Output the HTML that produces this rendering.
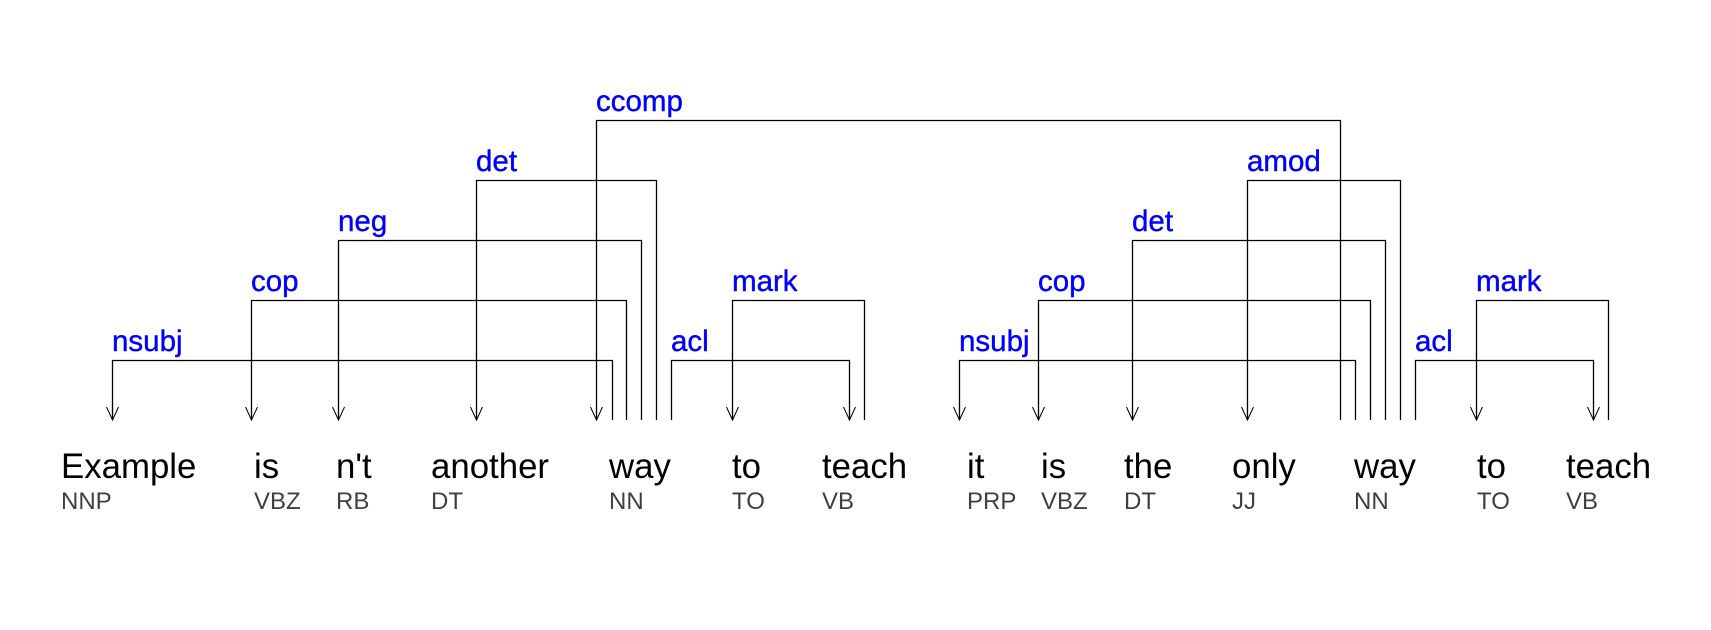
<!DOCTYPE html>
<html><head><meta charset="utf-8"><style>
html,body{margin:0;padding:0;background:#fff;}
svg{display:block;}
.w{font-family:"Liberation Sans",Arial,sans-serif;font-size:34.8px;fill:#000;}
.p{font-family:"Liberation Sans",Arial,sans-serif;font-size:24px;fill:#404040;}
.l{font-family:"Liberation Sans",Arial,sans-serif;font-size:29.5px;fill:#0000ff;stroke:#0000ff;stroke-width:0.4;}
</style></head><body>
<svg width="1711" height="630" viewBox="0 0 1711 630" xmlns="http://www.w3.org/2000/svg">
<rect width="1711" height="630" fill="#fff"/>
<g stroke="#000" stroke-width="1.3" fill="none">
<path d="M612.5 420V360.5H112.5V420"/>
<path d="M626.5 420V300.5H251.5V420"/>
<path d="M641.5 420V240.5H338.5V420"/>
<path d="M656.5 420V180.5H476.5V420"/>
<path d="M671.5 420V360.5H849.5V420"/>
<path d="M864.5 420V300.5H732.5V420"/>
<path d="M1340.5 420V120.5H596.5V420"/>
<path d="M1355.5 420V360.5H959.5V420"/>
<path d="M1370.5 420V300.5H1038.5V420"/>
<path d="M1385.5 420V240.5H1132.5V420"/>
<path d="M1400.5 420V180.5H1247.5V420"/>
<path d="M1415.5 420V360.5H1593.5V420"/>
<path d="M1608.5 420V300.5H1476.5V420"/>
<g stroke-width="1">
<path d="M106.5 407L112.5 420L118.5 407"/>
<path d="M245.5 407L251.5 420L257.5 407"/>
<path d="M332.5 407L338.5 420L344.5 407"/>
<path d="M470.5 407L476.5 420L482.5 407"/>
<path d="M590.5 407L596.5 420L602.5 407"/>
<path d="M726.5 407L732.5 420L738.5 407"/>
<path d="M843.5 407L849.5 420L855.5 407"/>
<path d="M953.5 407L959.5 420L965.5 407"/>
<path d="M1032.5 407L1038.5 420L1044.5 407"/>
<path d="M1126.5 407L1132.5 420L1138.5 407"/>
<path d="M1241.5 407L1247.5 420L1253.5 407"/>
<path d="M1470.5 407L1476.5 420L1482.5 407"/>
<path d="M1587.5 407L1593.5 420L1599.5 407"/>
</g>
</g>
<text class="l" x="112" y="351">nsubj</text>
<text class="l" x="251" y="291">cop</text>
<text class="l" x="338" y="231">neg</text>
<text class="l" x="476" y="171">det</text>
<text class="l" x="596" y="111">ccomp</text>
<text class="l" x="671" y="351">acl</text>
<text class="l" x="732" y="291">mark</text>
<text class="l" x="959" y="351">nsubj</text>
<text class="l" x="1038" y="291">cop</text>
<text class="l" x="1132" y="231">det</text>
<text class="l" x="1247" y="171">amod</text>
<text class="l" x="1415" y="351">acl</text>
<text class="l" x="1476" y="291">mark</text>
<text class="w" x="61" y="478">Example</text>
<text class="w" x="254" y="478">is</text>
<text class="w" x="336" y="478">n't</text>
<text class="w" x="431" y="478">another</text>
<text class="w" x="609" y="478">way</text>
<text class="w" x="732" y="478">to</text>
<text class="w" x="822" y="478">teach</text>
<text class="w" x="967" y="478">it</text>
<text class="w" x="1041" y="478">is</text>
<text class="w" x="1124" y="478">the</text>
<text class="w" x="1232" y="478">only</text>
<text class="w" x="1354" y="478">way</text>
<text class="w" x="1477" y="478">to</text>
<text class="w" x="1566" y="478">teach</text>
<text class="p" x="61" y="509">NNP</text>
<text class="p" x="254" y="509">VBZ</text>
<text class="p" x="336" y="509">RB</text>
<text class="p" x="431" y="509">DT</text>
<text class="p" x="609" y="509">NN</text>
<text class="p" x="732" y="509">TO</text>
<text class="p" x="822" y="509">VB</text>
<text class="p" x="967" y="509">PRP</text>
<text class="p" x="1041" y="509">VBZ</text>
<text class="p" x="1124" y="509">DT</text>
<text class="p" x="1232" y="509">JJ</text>
<text class="p" x="1354" y="509">NN</text>
<text class="p" x="1477" y="509">TO</text>
<text class="p" x="1566" y="509">VB</text>
</svg>
</body></html>
